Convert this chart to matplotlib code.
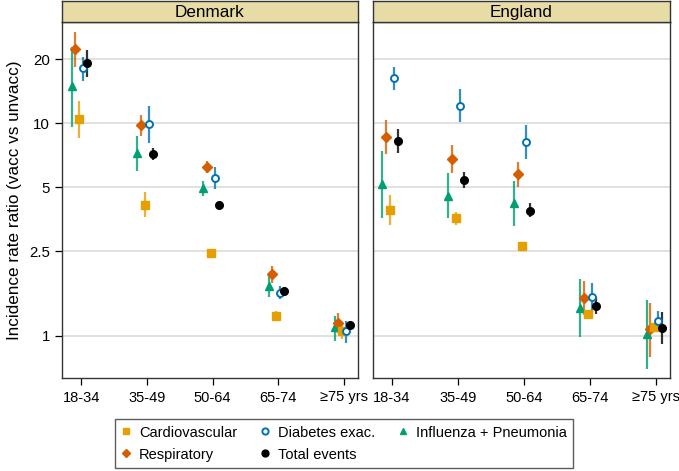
import numpy as np
import matplotlib.pyplot as plt
from matplotlib.lines import Line2D

plt.rcParams['font.family'] = ['Liberation Sans', 'DejaVu Sans']

ages = ['18-34', '35-49', '50-64', '65-74', '\u226575 yrs']

# estimate, lower CI, upper CI per outcome (Denmark)
dk = {
    'Cardiovascular':         ([10.45, 4.13, 2.45, 1.24, 1.05],
                               [8.5, 3.64, 2.34, 1.17, 0.965],
                               [12.7, 4.74, 2.54, 1.315, 1.15]),
    'Respiratory':            ([22.3, 9.83, 6.26, 1.95, 1.155],
                               [18.4, 8.73, 5.83, 1.78, 1.03],
                               [26.8, 11.0, 6.65, 2.14, 1.28]),
    'Diabetes exac.':         ([18.2, 9.9, 5.52, 1.60, 1.05],
                               [15.8, 8.06, 4.9, 1.49, 0.93],
                               [20.6, 12.1, 6.26, 1.71, 1.17]),
    'Total events':           ([19.2, 7.2, 4.13, 1.63, 1.12],
                               [16.5, 6.73, 4.02, 1.58, 1.075],
                               [22.1, 7.69, 4.25, 1.68, 1.18]),
    'Influenza + Pneumonia':  ([15.0, 7.23, 4.98, 1.72, 1.10],
                               [9.65, 6.0, 4.57, 1.52, 0.95],
                               [22.8, 8.73, 5.36, 1.94, 1.246]),
}

# England
en = {
    'Cardiovascular':         ([3.91, 3.58, 2.65, 1.265, 1.106],
                               [3.33, 3.33, 2.55, 1.23, 1.06],
                               [4.61, 3.84, 2.75, 1.30, 1.15]),
    'Respiratory':            ([8.63, 6.8, 5.78, 1.51, 1.075],
                               [7.16, 5.87, 5.04, 1.26, 0.80],
                               [10.4, 7.91, 6.56, 1.81, 1.43]),
    'Diabetes exac.':         ([16.3, 12.08, 8.2, 1.52, 1.18],
                               [14.4, 10.1, 6.8, 1.30, 1.055],
                               [18.5, 14.5, 9.83, 1.77, 1.31]),
    'Total events':           ([8.27, 5.4, 3.88, 1.39, 1.094],
                               [7.23, 4.95, 3.61, 1.265, 0.917],
                               [9.41, 5.91, 4.2, 1.53, 1.30]),
    'Influenza + Pneumonia':  ([5.19, 4.57, 4.22, 1.36, 1.02],
                               [3.58, 3.58, 3.29, 0.99, 0.70],
                               [7.42, 5.83, 5.36, 1.85, 1.48]),
}

outcomes = ['Cardiovascular', 'Respiratory', 'Diabetes exac.', 'Total events', 'Influenza + Pneumonia']
style = {
    'Cardiovascular':        dict(color='#E69F00', marker='s', ms=5.5, off=-0.03, mfc='#E69F00'),
    'Respiratory':           dict(color='#D55E00', marker='D', ms=5.0, off=-0.09, mfc='#D55E00'),
    'Diabetes exac.':        dict(color='#0072B2', marker='o', ms=5.0, off=0.03, mfc='white'),
    'Total events':          dict(color='black', marker='o', ms=5.5, off=0.09, mfc='black'),
    'Influenza + Pneumonia': dict(color='#009E73', marker='^', ms=5.5, off=-0.145, mfc='#009E73'),
}
draw_order = ['Influenza + Pneumonia', 'Respiratory', 'Cardiovascular', 'Diabetes exac.', 'Total events']

fig = plt.figure(figsize=(6.79, 4.71), dpi=100)
W, H = 679, 471
panels = [('Denmark', dk, 62, 358), ('England', en, 372.5, 670)]
x = np.arange(len(ages))

for i, (name, data, x0, x1) in enumerate(panels):
    ax = fig.add_axes([x0 / W, (H - 378) / H, (x1 - x0) / W, 356 / H])
    for o in draw_order:
        est, lo, hi = (np.array(v) for v in data[o])
        s = style[o]
        ax.vlines(x + s['off'], lo, hi, color=s['color'], lw=1.6, alpha=0.8, zorder=3)
        ax.plot(x + s['off'], est, ls='none', marker=s['marker'], ms=s['ms'],
                color=s['color'], mfc=s['mfc'], mec=s['color'],
                mew=1.4 if s['mfc'] == 'white' else 1.0, zorder=4)
    ax.set_yscale('log')
    ax.set_ylim(0.634, 30)
    ax.set_xlim(-0.29, 4.21)
    ax.set_yticks([1, 2.5, 5, 10, 20])
    ax.set_yticklabels(['1', '2.5', '5', '10', '20'])
    ax.minorticks_off()
    ax.yaxis.grid(True, color='#DCDCDC', lw=1.2)
    ax.set_axisbelow(True)
    ax.set_xticks(x)
    ax.set_xticklabels(ages)
    ax.tick_params(axis='x', length=5, width=0.9, labelsize=10.5, pad=4)
    if i == 0:
        ax.tick_params(axis='y', length=5, width=0.9, labelsize=10.8)
        ax.set_ylabel('Incidence rate ratio (vacc vs unvacc)', fontsize=12.3, labelpad=5)
    else:
        ax.tick_params(axis='y', left=False, labelleft=False)
    for sp in ax.spines.values():
        sp.set_color('#333333')
        sp.set_linewidth(1.0)

    # strip header
    sx = fig.add_axes([x0 / W, (H - 22) / H, (x1 - x0) / W, 21 / H])
    sx.set_facecolor('#E8DCA6')
    sx.set_xticks([])
    sx.set_yticks([])
    for sp in sx.spines.values():
        sp.set_color('#333333')
        sp.set_linewidth(1.0)
    sx.text(0.5, 0.45, name, ha='center', va='center', fontsize=12.3, transform=sx.transAxes)

handles = []
for o in outcomes:
    s = style[o]
    handles.append(Line2D([], [], ls='none', marker=s['marker'], ms=s['ms'] * 0.9,
                          color=s['color'], mfc=s['mfc'], mec=s['color'],
                          mew=1.4 if s['mfc'] == 'white' else 1.0))
leg = fig.legend(handles, outcomes, ncol=3, loc='upper left',
                 bbox_to_anchor=(115 / W, 1 - 419 / H), borderaxespad=0,
                 frameon=True, fancybox=False,
                 fontsize=10.5, handlelength=0.6, handletextpad=0.6, columnspacing=1.6,
                 borderpad=0.45, labelspacing=0.55, edgecolor='#333333')
leg.get_frame().set_linewidth(1.0)

fig.savefig('out.png', dpi=100)
